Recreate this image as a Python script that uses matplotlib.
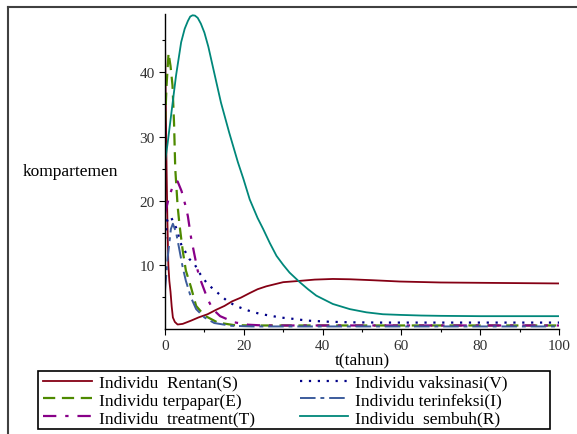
import matplotlib
matplotlib.use("Agg")
import matplotlib.pyplot as plt
from matplotlib.lines import Line2D
from matplotlib.patches import Rectangle

plt.rcParams['font.family'] = ['Liberation Serif', 'DejaVu Serif']

# ---- data ----
S_t = [0, 0.2, 0.4, 0.6, 0.85, 1.1, 1.4, 1.7, 2.0, 2.5, 3.2, 4.5, 6.6, 8.5, 10.8, 13, 15.1, 17, 19.3,
       21.5, 23.5, 25.7, 28, 30, 34.2, 38, 42.6, 47, 52.8, 59.6, 70, 80, 90, 100]
S = [45, 35, 25, 17, 10, 7.5, 5.8, 3.5, 1.8, 1.1, 0.7, 0.8, 1.3, 1.8, 2.3, 3.0, 3.6, 4.3, 4.9,
     5.6, 6.2, 6.65, 7.0, 7.3, 7.5, 7.7, 7.8, 7.75, 7.6, 7.4, 7.25, 7.2, 7.15, 7.1]

E_t = [0, 0.4, 0.9, 1.4, 1.9, 2.3, 2.6, 3.2, 3.65, 4.5, 5.3, 6.6, 7.9, 10, 13.4, 17.6, 22, 30,
       40, 50, 60, 70, 80, 90, 100]
E = [32, 38, 43, 41, 38, 32, 25, 19.2, 16.4, 12.2, 9.1, 6.5, 3.6, 2.1, 1.0, 0.6, 0.55, 0.55,
     0.55, 0.55, 0.55, 0.55, 0.55, 0.55, 0.55]

T_t = [0, 1, 2, 3.2, 4.2, 5.3, 5.8, 6.6, 7.4, 8.3, 9.1, 10.8, 12.1, 14, 17.6, 21, 25, 30,
       40, 50, 60, 70, 80, 90, 100]
T = [18, 20.5, 22.3, 23, 21.5, 19, 17.6, 14.3, 11.8, 9.1, 7.5, 4.7, 3.1, 2.0, 1.04, 0.67, 0.55, 0.55,
     0.55, 0.55, 0.55, 0.55, 0.55, 0.55, 0.55]

V_t = [0, 0.6, 1.4, 2.8, 4.1, 6.2, 7.5, 9, 10.8, 12.5, 15.9, 18, 20.1, 22, 24.5, 26.6, 29.1, 31.6,
       36.3, 41.4, 46.9, 55, 65, 80, 100]
V = [14, 17, 17.6, 15.8, 13.2, 10.9, 10.1, 8.5, 7.0, 6.1, 4.3, 3.6, 3.1, 2.7, 2.3, 2.1, 1.8, 1.65,
     1.3, 1.14, 1.04, 1.0, 1.0, 1.0, 1.0]

I_t = [0, 0.7, 1.5, 2.0, 2.8, 3.7, 4.5, 5.3, 6.6, 7.9, 10, 12.5, 16.8, 22, 30, 40, 50, 60, 70,
       80, 90, 100]
I = [6, 11.2, 15.6, 16.4, 15.1, 12.2, 9.6, 7.5, 4.9, 3.1, 1.8, 0.93, 0.5, 0.4, 0.4, 0.4, 0.4, 0.4, 0.4,
     0.4, 0.4, 0.4]

R_t = [0, 0.7, 1.95, 2.8, 4.1, 5.0, 5.8, 6.4, 7.0, 7.6, 8.3, 9.1, 10, 11, 12.1, 14.2, 16.3, 18.5,
       19.9, 21.5, 23.5, 24.9, 26.6, 28.3, 30, 31.6, 34.2, 36.3, 38.4, 42.6, 46.9, 51.1, 55.3,
       59.6, 65, 70, 80, 90, 100]
R = [26, 29.1, 35.3, 39.5, 44.7, 46.8, 48.0, 48.7, 48.9, 48.85, 48.5, 47.6, 46.2, 44, 41, 35.3,
     30.6, 26, 23.4, 20.2, 17.3, 15.6, 13.4, 11.4, 10, 8.8, 7.3, 6.2, 5.2, 3.9, 3.1, 2.6, 2.3,
     2.2, 2.1, 2.05, 2.0, 2.0, 2.0]

labels = ["Individu  Rentan(S)", "Individu terpapar(E)", "Individu  treatment(T)",
          "Individu vaksinasi(V)", "Individu terinfeksi(I)", "Individu  sembuh(R)"]
x_ticks = [0, 20, 40, 60, 80, 100]
y_ticks = [10, 20, 30, 40]

# ---- figure ----
W, H = 577, 435
fig = plt.figure(figsize=(W / 100, H / 100), dpi=100)
ax = fig.add_axes([165 / W, 1 - 330 / H, (559 - 165) / W, (330 - 15) / H])

c_S, c_E, c_T = '#850014', '#4e8a00', '#880088'
c_V, c_I, c_R = '#000088', '#3c5c9c', '#00877a'

lS, = ax.plot(S_t, S, color=c_S, lw=1.3)
lE, = ax.plot(E_t, E, color=c_E, lw=1.6, linestyle=(0, (5.5, 3)))
lT, = ax.plot(T_t, T, color=c_T, lw=1.6, linestyle=(0, (6, 4, 1.5, 4)))
lV, = ax.plot(V_t, V, color=c_V, lw=1.6, linestyle=(0, (1, 3)))
lI, = ax.plot(I_t, I, color=c_I, lw=1.4, linestyle=(0, (8, 2.5, 2, 2.5)))
lR, = ax.plot(R_t, R, color=c_R, lw=1.3)

ax.set_xlim(0, 100)
ax.set_ylim(0, 49.1)
for s in ['top', 'right']:
    ax.spines[s].set_visible(False)
for s in ['left', 'bottom']:
    ax.spines[s].set_linewidth(1.0)
    ax.spines[s].set_color('black')

ax.set_xticks(x_ticks)
ax.set_yticks(y_ticks)
ax.set_xticks([10, 30, 50, 70, 90], minor=True)
ax.set_yticks([5, 15, 25, 35, 45], minor=True)
ax.tick_params(which='major', direction='out', length=4, width=0.8, labelsize=11,
               labelcolor='#303030')
ax.tick_params(which='minor', direction='out', length=2.5, width=0.8)
ax.tick_params(axis='x', pad=3)
ax.tick_params(axis='y', pad=3.5)
ax.patch.set_alpha(0)

ax.set_xlabel('t(tahun)', fontsize=12.5, labelpad=0)
fig.text(23 / W, 1 - 172 / H, 'kompartemen', fontsize=12.5, ha='left', va='center')

# legend (entries without frame, frame drawn as its own box)
handles = [lS, lE, lT, lV, lI, lR]
leg = fig.legend(handles, labels, ncol=2,
                 bbox_to_anchor=(43 / W, 1 - 375.5 / H),
                 bbox_transform=fig.transFigure, loc='upper left',
                 fontsize=12.5, handlelength=2.8, handletextpad=0.4,
                 labelspacing=0.1, borderpad=0.0, columnspacing=2.6,
                 frameon=False, borderaxespad=0)
fig.add_artist(Rectangle((38 / W, 1 - 430 / H), 512 / W, 58 / H, transform=fig.transFigure,
                         fill=False, edgecolor='black', lw=1.2))

# outer frame (top and left)
fig.add_artist(Line2D([8 / W, 1], [1 - 8 / H, 1 - 8 / H], transform=fig.transFigure,
                      color='#404040', lw=1.5))
fig.add_artist(Line2D([8 / W, 8 / W], [0, 1 - 8 / H], transform=fig.transFigure,
                      color='#404040', lw=1.5))

fig.savefig('out.png', dpi=100)
